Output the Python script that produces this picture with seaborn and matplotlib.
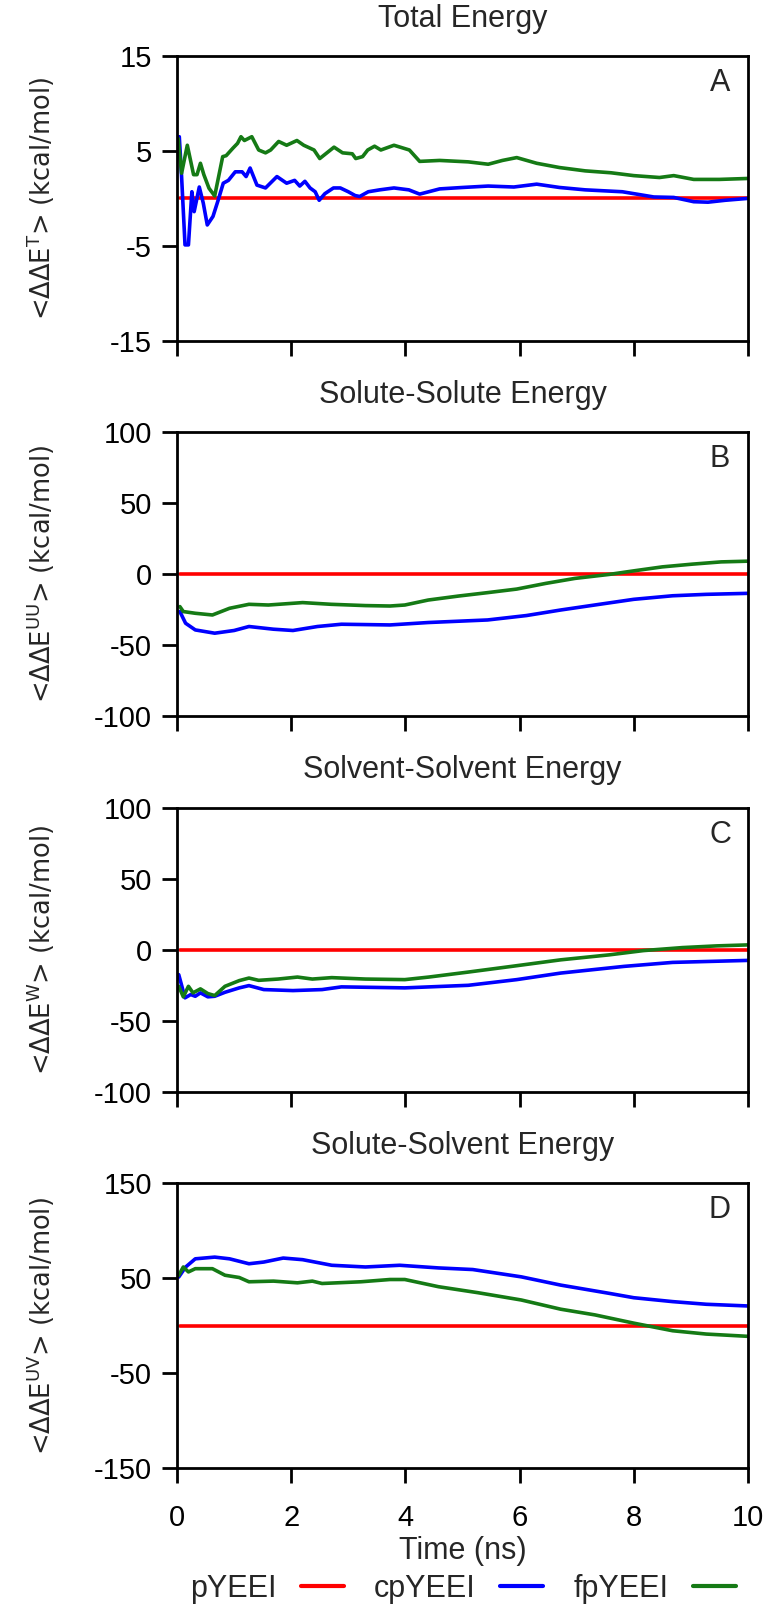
import matplotlib
matplotlib.use("Agg")
import matplotlib.pyplot as plt
import seaborn as sns
from matplotlib.lines import Line2D

# Panel titles, letters and y labels
titles = ["Total Energy", "Solute-Solute Energy", "Solvent-Solvent Energy", "Solute-Solvent Energy"]
letters = ["A", "B", "C", "D"]
ylabels = [r"<ΔΔE$^{\mathrm{T}}$> (kcal/mol)",
           r"<ΔΔE$^{\mathrm{UU}}$> (kcal/mol)",
           r"<ΔΔE$^{\mathrm{W}}$> (kcal/mol)",
           r"<ΔΔE$^{\mathrm{UV}}$> (kcal/mol)"]
ylims = [(-15, 15), (-100, 100), (-100, 100), (-150, 150)]
yticks = [[-15, -5, 5, 15], [-100, -50, 0, 50, 100], [-100, -50, 0, 50, 100], [-150, -50, 50, 150]]
xticks = [0, 2, 4, 6, 8, 10]
series_names = ["pYEEI", "cpYEEI", "fpYEEI"]
series_colors = ["#ff0000", "#0000ff", "#157a15"]

# pYEEI is the reference: zero everywhere
ref_t = [0.05, 10]
ref_v = [0, 0]

# Panel A - total energy
a_blue_t = [0.04, 0.08, 0.14, 0.2, 0.26, 0.3, 0.39, 0.46, 0.53, 0.63, 0.72, 0.81, 0.9, 1.02, 1.14,
            1.21, 1.28, 1.4, 1.55, 1.75, 1.92, 2.06, 2.15, 2.24, 2.33, 2.42, 2.49, 2.59, 2.74, 2.86,
            3.0, 3.12, 3.2, 3.35, 3.55, 3.8, 4.06, 4.25, 4.6, 5.0, 5.45, 5.9, 6.3, 6.7, 7.15, 7.8,
            8.35, 8.7, 9.05, 9.3, 9.6, 10.0]
a_blue_v = [6.5, 2.3, -4.9, -4.9, 0.7, -1.4, 1.2, -0.5, -2.8, -1.9, -0.2, 1.6, 1.9, 2.8, 2.8,
            2.3, 3.2, 1.4, 1.1, 2.3, 1.6, 1.9, 1.3, 1.8, 1.1, 0.7, -0.2, 0.5, 1.1, 1.1,
            0.7, 0.3, 0.2, 0.7, 0.9, 1.1, 0.9, 0.45, 1.0, 1.15, 1.3, 1.2, 1.5, 1.15, 0.9, 0.7,
            0.15, 0.1, -0.35, -0.4, -0.2, 0.0]
a_green_t = [0.02, 0.08, 0.18, 0.29, 0.35, 0.41, 0.47, 0.56, 0.66, 0.8, 0.86, 0.98, 1.06, 1.12, 1.18,
             1.31, 1.43, 1.55, 1.64, 1.78, 1.92, 2.1, 2.22, 2.4, 2.5, 2.75, 2.9, 3.07, 3.13, 3.25,
             3.34, 3.46, 3.57, 3.8, 4.07, 4.25, 4.6, 5.1, 5.45, 5.7, 5.95, 6.3, 6.7, 7.15, 7.6,
             8.0, 8.45, 8.7, 9.05, 9.5, 10.0]
a_green_v = [6.3, 2.65, 5.6, 2.5, 2.5, 3.7, 2.5, 1.07, 0.26, 4.4, 4.5, 5.3, 5.8, 6.5, 6.1,
             6.5, 5.1, 4.8, 5.1, 6.0, 5.6, 6.1, 5.6, 5.1, 4.2, 5.4, 4.8, 4.7, 4.2, 4.4,
             5.1, 5.5, 5.1, 5.6, 5.1, 3.9, 4.0, 3.85, 3.6, 4.0, 4.3, 3.7, 3.25, 2.9, 2.7,
             2.4, 2.2, 2.4, 2.0, 2.0, 2.1]

# Panel B - solute-solute
b_blue_t = [0.05, 0.15, 0.32, 0.66, 1.0, 1.26, 1.69, 2.03, 2.46, 2.88, 3.73, 4.4, 5.44, 6.12, 6.72,
            7.4, 8.0, 8.68, 9.27, 10.0]
b_blue_v = [-26.3, -34.5, -39.2, -41.5, -39.6, -36.8, -38.7, -39.6, -36.8, -35.2, -35.7, -34.0,
            -32.2, -29.1, -25.2, -21.2, -17.7, -15.2, -14.2, -13.5]
b_green_t = [0.05, 0.11, 0.32, 0.62, 0.92, 1.26, 1.6, 2.2, 2.7, 3.3, 3.73, 3.99, 4.4, 4.93, 5.44,
             5.95, 6.46, 6.97, 7.57, 8.0, 8.5, 9.02, 9.53, 10.0]
b_green_v = [-22.8, -26.3, -27.5, -28.7, -24.0, -21.2, -21.7, -20.0, -21.2, -22.1, -22.4, -21.7,
             -18.2, -15.4, -13.0, -10.5, -6.5, -3.0, -0.2, 2.3, 5.1, 7.0, 8.6, 9.1]

# Panel C - solvent-solvent
c_blue_t = [0.03, 0.14, 0.24, 0.32, 0.41, 0.54, 0.66, 0.84, 1.09, 1.26, 1.52, 2.03, 2.54, 2.88,
            3.99, 5.1, 5.95, 6.72, 7.83, 8.68, 10.0]
c_blue_v = [-17.4, -33.7, -31.4, -32.6, -30.2, -33.0, -32.6, -29.8, -26.7, -25.1, -27.9, -28.6,
            -27.9, -26.0, -26.7, -24.9, -20.9, -16.3, -11.6, -8.8, -7.4]
c_green_t = [0.03, 0.11, 0.2, 0.28, 0.41, 0.54, 0.66, 0.84, 1.09, 1.26, 1.43, 1.77, 2.11, 2.37,
             2.71, 3.3, 3.99, 4.41, 5.1, 5.86, 6.72, 7.57, 8.17, 8.85, 9.45, 10.0]
c_green_v = [-25.6, -33.0, -25.6, -30.2, -27.4, -30.7, -32.1, -25.6, -21.6, -19.8, -21.4, -20.5,
             -19.1, -20.5, -19.5, -20.5, -20.9, -19.1, -15.6, -11.6, -7.0, -3.5, -0.5, 1.6, 2.8, 3.5]

# Panel D - solute-solvent
d_blue_t = [0.03, 0.15, 0.32, 0.66, 0.92, 1.26, 1.52, 1.86, 2.2, 2.71, 3.3, 3.9, 4.58, 5.18, 6.03,
            6.72, 7.57, 8.0, 8.68, 9.27, 10.0]
d_blue_v = [51.2, 61.7, 70.4, 72.2, 70.4, 65.2, 67.0, 71.2, 69.5, 63.6, 61.8, 63.6, 60.8, 59.1,
            51.4, 42.7, 34.0, 29.4, 25.3, 22.5, 20.7]
d_green_t = [0.03, 0.11, 0.2, 0.32, 0.62, 0.84, 1.09, 1.26, 1.69, 2.11, 2.37, 2.54, 3.22, 3.73,
             3.99, 4.58, 5.27, 6.03, 6.72, 7.32, 8.0, 8.68, 9.27, 10.0]
d_green_v = [53.1, 61.8, 56.6, 60.0, 60.0, 53.1, 50.7, 46.2, 46.9, 45.1, 46.9, 44.4, 46.2, 48.6,
             48.6, 41.0, 34.7, 27.0, 17.3, 11.3, 2.6, -5.4, -8.9, -11.3]

panels = [
    ((a_blue_t, a_blue_v), (a_green_t, a_green_v)),
    ((b_blue_t, b_blue_v), (b_green_t, b_green_v)),
    ((c_blue_t, c_blue_v), (c_green_t, c_green_v)),
    ((d_blue_t, d_blue_v), (d_green_t, d_green_v)),
]

sns.set_theme(style="ticks")
plt.rcParams["font.family"] = ["Liberation Sans Narrow", "Liberation Sans", "DejaVu Sans"]
plt.rcParams["axes.unicode_minus"] = False

fig, axes = plt.subplots(4, 1, figsize=(7.64, 16.11), dpi=100)
fig.subplots_adjust(left=0.2317, right=0.979, top=0.9652, bottom=0.0888, hspace=0.32)

LW = 2.6
for i, ax in enumerate(axes):
    (bt, bv), (gt, gv) = panels[i]
    sns.lineplot(x=ref_t, y=ref_v, color=series_colors[0], lw=LW, ax=ax)
    sns.lineplot(x=bt, y=bv, color=series_colors[1], lw=LW, ax=ax)
    sns.lineplot(x=gt, y=gv, color=series_colors[2], lw=LW, ax=ax)

    ax.set_xlim(0, 10)
    ax.set_ylim(*ylims[i])
    ax.set_yticks(yticks[i])
    ax.set_xticks(xticks)
    for s in ax.spines.values():
        s.set_color("black")
        s.set_linewidth(2.0)
    ax.tick_params(direction="out", length=11, width=2.0, colors="black", labelsize=21, pad=7)
    ax.tick_params(axis="x", pad=15)
    ax.set_title(titles[i], fontsize=22, pad=21)
    ax.set_ylabel(ylabels[i], fontsize=18.5, family="DejaVu Sans")
    ax.yaxis.set_label_coords(-0.21, 0.5)
    ax.text(0.951, 0.905, letters[i], transform=ax.transAxes, fontsize=22,
            ha="center", va="center")
    if i < 3:
        ax.set_xticklabels([])
        ax.set_xlabel("")
    else:
        ax.set_xlabel("Time (ns)", fontsize=22, labelpad=3)

handles = [Line2D([], [], color=c, lw=LW + 0.4) for c in series_colors]
fig.legend(handles, series_names, loc="lower center", bbox_to_anchor=(0.606, -0.005), ncol=3,
           frameon=False, markerfirst=False, fontsize=22, handlelength=1.4,
           handletextpad=0.8, columnspacing=1.0, borderpad=0.0)

fig.savefig("out.png", dpi=100)
